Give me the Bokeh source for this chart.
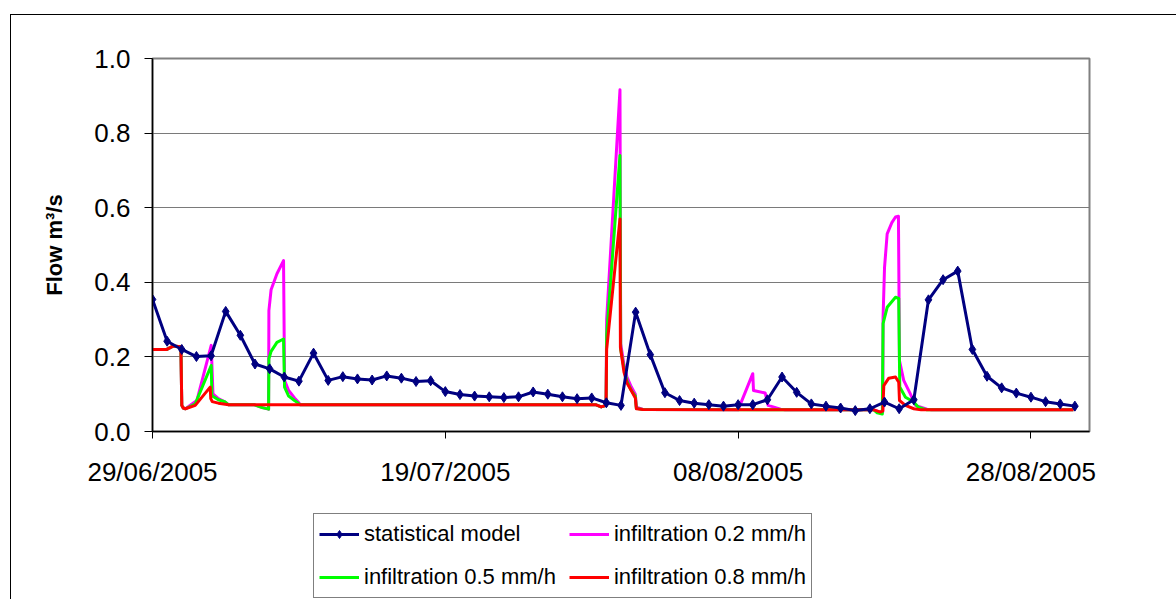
from bokeh.plotting import figure
from bokeh.layouts import column
from bokeh.models import (Range1d, FixedTicker, NumeralTickFormatter, Legend, LegendItem)
from bokeh.embed import file_html
from bokeh.resources import INLINE

# ---- data ----
tick_days = [0, 20, 40, 60]
tick_labels = ["29/06/2005", "19/07/2005", "08/08/2005", "28/08/2005"]

stat_day = list(range(64))
stat_flow = [0.354, 0.242, 0.220, 0.201, 0.203, 0.322, 0.258, 0.181, 0.168, 0.146,
             0.135, 0.210, 0.137, 0.147, 0.141, 0.138, 0.149, 0.143, 0.134, 0.136,
             0.107, 0.099, 0.095, 0.093, 0.091, 0.093, 0.106, 0.100, 0.093, 0.088,
             0.090, 0.077, 0.070, 0.320, 0.206, 0.104, 0.083, 0.076, 0.072, 0.068,
             0.072, 0.072, 0.085, 0.146, 0.105, 0.074, 0.068, 0.063, 0.056, 0.061,
             0.079, 0.061, 0.085, 0.353, 0.407, 0.430, 0.220, 0.148, 0.117, 0.103,
             0.092, 0.080, 0.074, 0.068]

red_t = [0, 0.98, 1.4, 1.94, 2.0, 2.1, 2.25, 2.92, 3.94, 3.98,
         4.08, 4.5, 4.97, 5.2, 30.3, 30.65, 30.98, 31.02, 31.93, 31.96,
         32.2, 32.41, 32.7, 32.98, 33.05, 33.5, 49.27, 49.72, 49.88, 49.95,
         50.29, 50.75, 50.97, 51.02, 51.43, 52.0, 52.5, 62.9]
red_q = [0.220, 0.220, 0.229, 0.227, 0.070, 0.063, 0.061, 0.070, 0.119, 0.088,
         0.080, 0.076, 0.073, 0.0715, 0.0715, 0.066, 0.070, 0.220, 0.570, 0.226,
         0.16, 0.130, 0.11, 0.090, 0.061, 0.059, 0.058, 0.052, 0.055, 0.123,
         0.143, 0.146, 0.132, 0.083, 0.070, 0.061, 0.058, 0.058]

green_t = [0, 0.98, 1.4, 1.94, 2.0, 2.1, 2.25, 2.92, 4.01, 4.06,
           4.5, 4.97, 5.2, 6.97, 7.5, 7.93, 7.95, 8.1, 8.5, 8.95,
           9.02, 9.3, 9.7, 9.95, 10.1, 30.3, 30.65, 30.98, 31.02, 31.93,
           31.98, 32.2, 32.41, 32.7, 32.98, 33.05, 33.5, 49.27, 49.5, 49.85,
           49.9, 50.18, 50.75, 50.97, 51.04, 51.43, 52.0, 52.3, 52.9, 62.9]
green_q = [0.220, 0.220, 0.229, 0.227, 0.070, 0.063, 0.061, 0.074, 0.177, 0.096,
           0.085, 0.079, 0.0715, 0.0715, 0.064, 0.060, 0.195, 0.215, 0.239, 0.248,
           0.119, 0.095, 0.083, 0.076, 0.0715, 0.0715, 0.066, 0.070, 0.260, 0.740,
           0.220, 0.17, 0.135, 0.11, 0.095, 0.062, 0.059, 0.058, 0.050, 0.047,
           0.289, 0.333, 0.360, 0.357, 0.119, 0.092, 0.079, 0.065, 0.058, 0.058]

mag_t = [0, 0.98, 1.4, 1.94, 2.0, 2.1, 2.25, 3.03, 4.01, 4.13,
         4.5, 4.97, 5.2, 6.97, 7.5, 7.93, 7.95, 8.1, 8.5, 8.95,
         9.02, 9.3, 9.7, 9.95, 10.1, 30.3, 30.65, 30.98, 31.02, 31.93,
         31.98, 32.2, 32.41, 32.7, 32.98, 33.05, 33.5, 40.0, 41.0, 41.05,
         41.85, 42.05, 42.9, 43.2, 49.27, 49.72, 49.88, 49.9, 50.0, 50.18,
         50.5, 50.75, 50.95, 51.02, 51.31, 51.77, 52.11, 52.9, 53.2, 62.9]
mag_q = [0.220, 0.220, 0.229, 0.227, 0.070, 0.063, 0.061, 0.083, 0.231, 0.101,
         0.088, 0.079, 0.0715, 0.0715, 0.064, 0.060, 0.324, 0.380, 0.423, 0.458,
         0.137, 0.110, 0.090, 0.079, 0.0715, 0.0715, 0.066, 0.070, 0.300, 0.916,
         0.235, 0.18, 0.146, 0.12, 0.100, 0.065, 0.059, 0.058, 0.155, 0.110,
         0.103, 0.070, 0.060, 0.058, 0.058, 0.052, 0.052, 0.306, 0.44, 0.53,
         0.56, 0.575, 0.577, 0.19, 0.137, 0.100, 0.070, 0.060, 0.058, 0.058]

series_labels = ["statistical model", "infiltration 0.2 mm/h",
                 "infiltration 0.5 mm/h", "infiltration 0.8 mm/h"]
series_colors = ["#000080", "#FF00FF", "#00FF00", "#FF0000"]

FONT = "Liberation Sans"

# ---------------- main chart ----------------
p = figure(width=1166, height=485, x_range=Range1d(0, 64), y_range=Range1d(0, 1),
           output_backend="svg", toolbar_location=None,
           min_border_left=141, min_border_top=43, min_border_right=88,
           min_border_bottom=69)

p.background_fill_color = "white"
p.border_fill_color = "white"
p.outline_line_color = "#808080"
p.outline_line_width = 2

p.xgrid.visible = False
p.ygrid.grid_line_color = "#7a7a7a"
p.ygrid.grid_line_width = 1

xa = p.xaxis[0]
xa.ticker = FixedTicker(ticks=tick_days)
xa.major_label_overrides = {d: l for d, l in zip(tick_days, tick_labels)}
xa.major_label_text_font = FONT
xa.major_label_text_font_size = "26px"
xa.major_label_text_color = "black"
xa.major_tick_in = 0
xa.major_tick_out = 7
xa.minor_tick_line_color = None
xa.axis_line_color = "black"
xa.axis_line_width = 1.5
xa.major_tick_line_color = "black"
xa.major_label_standoff = 18

ya = p.yaxis[0]
ya.ticker = FixedTicker(ticks=[0, 0.2, 0.4, 0.6, 0.8, 1.0])
ya.formatter = NumeralTickFormatter(format="0.0")
ya.major_label_text_font = FONT
ya.major_label_text_font_size = "26px"
ya.major_label_text_color = "black"
ya.major_tick_in = 0
ya.major_tick_out = 8
ya.minor_tick_line_color = None
ya.axis_line_color = "black"
ya.axis_line_width = 1.5
ya.major_tick_line_color = "black"
ya.major_label_standoff = 14
ya.axis_label = "Flow m³/s"
ya.axis_label_text_font = FONT
ya.axis_label_text_font_size = "22px"
ya.axis_label_text_font_style = "bold"
ya.axis_label_text_color = "black"
ya.axis_label_standoff = 24

p.line(mag_t, mag_q, line_color=series_colors[1], line_width=3, line_join="round")
p.line(green_t, green_q, line_color=series_colors[2], line_width=3, line_join="round")
p.line(red_t, red_q, line_color=series_colors[3], line_width=3, line_join="round")
p.line(stat_day, stat_flow, line_color=series_colors[0], line_width=3, line_join="round")
p.scatter(stat_day, stat_flow, marker="diamond", size=10, color=series_colors[0])

# ---------------- legend strip ----------------
q = figure(width=1166, height=100, x_range=Range1d(0, 1), y_range=Range1d(0, 1),
           output_backend="svg", toolbar_location=None,
           min_border_left=0, min_border_right=0, min_border_top=0, min_border_bottom=0)
q.axis.visible = False
q.grid.visible = False
q.outline_line_color = None
q.background_fill_color = "white"
q.border_fill_color = "white"

# legend sample renderers (placed outside the visible range of the strip)
off_x = [-5, -4]
off_y = [-5, -4]
lr0 = q.line(off_x, off_y, line_color=series_colors[0], line_width=3)
lm0 = q.scatter(off_x, off_y, marker="diamond", size=7, color=series_colors[0])
lr1 = q.line(off_x, off_y, line_color=series_colors[1], line_width=3)
lr2 = q.line(off_x, off_y, line_color=series_colors[2], line_width=3)
lr3 = q.line(off_x, off_y, line_color=series_colors[3], line_width=3)

legend = Legend(items=[
    LegendItem(label=series_labels[0], renderers=[lr0, lm0]),
    LegendItem(label=series_labels[2], renderers=[lr2]),
    LegendItem(label=series_labels[1], renderers=[lr1]),
    LegendItem(label=series_labels[3], renderers=[lr3]),
], ncols=2)
legend.location = (161, 2)
legend.margin = 0
legend.padding = 5
legend.spacing = 13
legend.label_height = 30
legend.glyph_height = 20
legend.glyph_width = 40
legend.label_standoff = 5
legend.label_text_font = FONT
legend.label_text_font_size = "22px"
legend.label_text_color = "black"
legend.border_line_color = "black"
legend.border_line_width = 1
legend.background_fill_color = "white"
legend.background_fill_alpha = 1
q.add_layout(legend, "center")

layout = column(p, q, spacing=0)
layout.margin = (14, 0, 0, 10)
layout.styles = {"border-left": "1px solid black", "border-top": "1px solid black"}

open("out.html", "w").write(file_html(layout, INLINE))
